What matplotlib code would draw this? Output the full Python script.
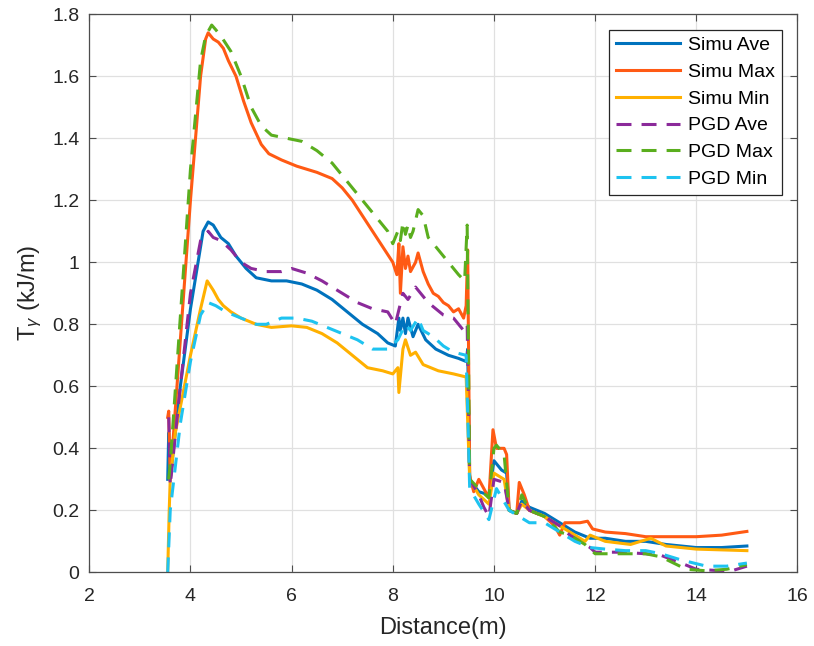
import numpy as np
import matplotlib
matplotlib.use("Agg")
import matplotlib.pyplot as plt

plt.rcParams['font.family'] = ['Liberation Sans', 'DejaVu Sans']
plt.rcParams['mathtext.fontset'] = 'custom'
plt.rcParams['mathtext.rm'] = 'Liberation Sans'
plt.rcParams['mathtext.it'] = 'Liberation Sans:italic'

# Simu Max
x_smax = [3.55, 3.57, 3.6, 3.8, 4.0, 4.2, 4.3, 4.35, 4.45, 4.55, 4.65, 4.75, 4.9, 5.05, 5.2, 5.4, 5.55,
          5.8, 6.1, 6.5, 6.8, 7.0, 7.2, 7.4, 7.6, 7.8, 8.0, 8.08, 8.12, 8.15, 8.2, 8.25, 8.3, 8.35, 8.45,
          8.5, 8.6, 8.7, 8.8, 8.9, 9.0, 9.1, 9.2, 9.3, 9.4, 9.45, 9.48, 9.52, 9.6, 9.7, 9.8, 9.9, 9.98,
          10.05, 10.2, 10.25, 10.3, 10.45, 10.5, 10.6, 10.7, 11.0, 11.2, 11.3, 11.4, 11.7, 11.85, 11.95,
          12.2, 12.6, 13.0, 13.5, 14.0, 14.5, 15.0]
y_smax = [0.5, 0.52, 0.3, 0.75, 1.2, 1.6, 1.72, 1.74, 1.72, 1.71, 1.69, 1.65, 1.6, 1.52, 1.45, 1.38, 1.35,
          1.33, 1.31, 1.29, 1.27, 1.24, 1.2, 1.15, 1.1, 1.05, 1.0, 0.96, 1.06, 0.9, 1.05, 0.98, 1.02, 0.97, 1.0,
          1.03, 0.97, 0.93, 0.9, 0.89, 0.87, 0.86, 0.84, 0.85, 0.82, 0.86, 1.04, 0.31, 0.26, 0.3, 0.27, 0.24, 0.46,
          0.4, 0.4, 0.38, 0.2, 0.19, 0.29, 0.25, 0.2, 0.18, 0.15, 0.12, 0.16, 0.16, 0.165, 0.14,
          0.13, 0.125, 0.115, 0.115, 0.115, 0.12, 0.132]

# Simu Ave
x_save = [3.55, 3.57, 3.6, 3.8, 4.0, 4.2, 4.25, 4.35, 4.45, 4.6, 4.75, 4.9, 5.1, 5.3, 5.6, 5.9, 6.2, 6.5,
          6.8, 7.1, 7.4, 7.7, 7.9, 8.05, 8.12, 8.15, 8.2, 8.25, 8.3, 8.4, 8.5, 8.65, 8.85, 9.1, 9.3, 9.45,
          9.48, 9.52, 9.7, 9.9, 10.0, 10.15, 10.25, 10.3, 10.45, 10.55, 10.7, 11.0, 11.3, 11.6, 11.9, 12.2,
          12.6, 13.0, 13.4, 14.0, 14.5, 15.0]
y_save = [0.3, 0.45, 0.3, 0.6, 0.85, 1.05, 1.1, 1.13, 1.12, 1.08, 1.06, 1.02, 0.98, 0.95, 0.94, 0.94, 0.93, 0.91,
          0.88, 0.84, 0.8, 0.77, 0.74, 0.73, 0.82, 0.78, 0.82, 0.77, 0.82, 0.76, 0.8, 0.75, 0.72, 0.7, 0.69, 0.68,
          0.72, 0.3, 0.26, 0.25, 0.36, 0.33, 0.32, 0.2, 0.19, 0.23, 0.21, 0.19, 0.16, 0.13, 0.11, 0.11,
          0.1, 0.1, 0.09, 0.08, 0.08, 0.085]

# Simu Min
x_smin = [3.55, 3.58, 3.6, 3.7, 4.0, 4.2, 4.33, 4.45, 4.55, 4.65, 4.8, 5.0, 5.3, 5.6, 6.0, 6.3, 6.6, 6.9,
          7.2, 7.5, 7.8, 8.0, 8.1, 8.12, 8.2, 8.25, 8.35, 8.45, 8.6, 8.9, 9.2, 9.45, 9.52, 9.7, 9.9, 10.0,
          10.2, 10.3, 10.45, 10.55, 10.7, 11.0, 11.3, 11.6, 11.8, 11.9, 12.2, 12.7, 13.1, 13.4, 14.0, 15.0]
y_smin = [0.0, 0.2, 0.3, 0.45, 0.7, 0.85, 0.94, 0.91, 0.88, 0.86, 0.84, 0.82, 0.8, 0.79, 0.795, 0.79, 0.77, 0.74,
          0.7, 0.66, 0.65, 0.64, 0.66, 0.58, 0.72, 0.75, 0.7, 0.71, 0.67, 0.65, 0.64, 0.63, 0.3, 0.25, 0.22, 0.32,
          0.3, 0.2, 0.19, 0.22, 0.2, 0.18, 0.15, 0.12, 0.1, 0.12, 0.1, 0.09, 0.11, 0.085, 0.075, 0.07]

# PGD Ave
x_pave = [3.57, 3.6, 3.8, 4.0, 4.2, 4.35, 4.45, 4.6, 4.8, 5.0, 5.2, 5.5, 5.8, 6.0, 6.3, 6.6, 7.0, 7.3,
          7.6, 7.9, 8.05, 8.2, 8.3, 8.45, 8.55, 8.7, 9.0, 9.2, 9.4, 9.47, 9.52, 9.7, 9.8, 9.9, 10.0, 10.2,
          10.3, 10.45, 10.55, 10.7, 11.0, 11.3, 11.5, 11.9, 12.0, 12.5, 13.0, 13.3, 13.7, 14.0, 14.5, 14.7, 15.0]
y_pave = [0.5, 0.28, 0.6, 0.9, 1.07, 1.1, 1.08, 1.07, 1.04, 1.0, 0.98, 0.97, 0.97, 0.98, 0.965, 0.94, 0.9, 0.87,
          0.85, 0.84, 0.8, 0.9, 0.88, 0.92, 0.9, 0.87, 0.83, 0.82, 0.78, 0.8, 0.3, 0.25, 0.21, 0.18, 0.3, 0.29,
          0.2, 0.19, 0.23, 0.2, 0.18, 0.15, 0.12, 0.08, 0.065, 0.065, 0.06, 0.055, 0.03, 0.01, 0.005, 0.005, 0.02]

# PGD Max
x_pmax = [3.57, 3.6, 4.0, 4.2, 4.3, 4.42, 4.5, 4.6, 4.8, 5.0, 5.2, 5.4, 5.6, 5.9, 6.2, 6.5, 6.8, 7.0,
          7.3, 7.6, 7.9, 8.0, 8.1, 8.15, 8.2, 8.25, 8.3, 8.35, 8.4, 8.5, 8.6, 8.7, 8.9, 9.0, 9.1, 9.2, 9.3,
          9.42, 9.47, 9.52, 9.7, 9.9, 10.0, 10.05, 10.2, 10.3, 10.45, 10.55, 10.7, 11.0, 11.3, 11.5, 11.8,
          12.0, 12.5, 13.0, 13.3, 13.8, 14.2, 14.6, 15.0]
y_pmax = [0.3, 0.35, 1.3, 1.65, 1.73, 1.765, 1.75, 1.73, 1.68, 1.6, 1.5, 1.44, 1.41, 1.4, 1.39, 1.36, 1.32, 1.28,
          1.22, 1.16, 1.1, 1.06, 1.1, 1.07, 1.13, 1.09, 1.12, 1.08, 1.1, 1.17, 1.15, 1.08, 1.04, 1.02, 1.0, 0.98, 0.96,
          0.94, 1.12, 0.3, 0.27, 0.24, 0.4, 0.41, 0.38, 0.2, 0.19, 0.25, 0.2, 0.18, 0.13, 0.12, 0.09,
          0.06, 0.06, 0.06, 0.05, 0.01, 0.005, 0.01, 0.025]

# PGD Min
x_pmin = [3.55, 3.6, 3.8, 4.0, 4.2, 4.35, 4.5, 4.7, 5.0, 5.3, 5.5, 5.8, 6.1, 6.4, 6.7, 7.0, 7.3, 7.6,
          7.9, 8.1, 8.25, 8.35, 8.5, 8.6, 8.8, 9.0, 9.2, 9.45, 9.52, 9.7, 9.9, 10.05, 10.3, 10.5, 10.7,
          11.0, 11.3, 11.6, 11.9, 12.2, 12.6, 13.0, 13.3, 13.7, 14.2, 14.6, 15.0]
y_pmin = [0.0, 0.2, 0.48, 0.68, 0.83, 0.87, 0.86, 0.84, 0.82, 0.8, 0.8, 0.82, 0.82, 0.81, 0.79, 0.77, 0.75, 0.72,
          0.72, 0.75, 0.8, 0.78, 0.82, 0.78, 0.76, 0.73, 0.71, 0.7, 0.27, 0.22, 0.17, 0.27, 0.2, 0.18, 0.16,
          0.16, 0.13, 0.1, 0.08, 0.075, 0.07, 0.07, 0.06, 0.04, 0.02, 0.02, 0.03]

fig = plt.figure(figsize=(8.14, 6.46), dpi=100)
ax = fig.add_axes([0.1097, 0.114, 0.870, 0.864])

lw = 2.2
dash = (0, (4.9, 3.3))
ax.plot(x_save, y_save, color='#0072BD', lw=lw, label='Simu Ave')
ax.plot(x_smax, y_smax, color='#FF5A14', lw=lw, label='Simu Max')
ax.plot(x_smin, y_smin, color='#FFB000', lw=lw, label='Simu Min')
ax.plot(x_pave, y_pave, color='#8B2A9A', lw=lw, ls=dash, label='PGD Ave')
ax.plot(x_pmax, y_pmax, color='#5AAE1E', lw=lw, ls=dash, label='PGD Max')
ax.plot(x_pmin, y_pmin, color='#1EC3F0', lw=lw, ls=dash, label='PGD Min')

ax.set_xlim(2, 16)
ax.set_ylim(0, 1.8)
ax.set_xticks(np.arange(2, 17, 2))
ax.set_yticks(np.arange(0, 1.81, 0.2))
ax.set_yticklabels(['0', '0.2', '0.4', '0.6', '0.8', '1', '1.2', '1.4', '1.6', '1.8'])
ax.tick_params(direction='in', top=True, right=True, labelsize=14, length=5,
               color='#4D4D4D', labelcolor='#262626')
ax.tick_params(axis='x', pad=11)
ax.tick_params(axis='y', pad=7)
ax.grid(True, color='#E0E0E0', lw=0.9)
ax.set_axisbelow(True)
for s in ax.spines.values():
    s.set_color('#4D4D4D')
    s.set_linewidth(0.9)

ax.set_xlabel('Distance(m)', fontsize=17, color='#262626', labelpad=9)
ax.set_ylabel(r'T$_\gamma$ (kJ/m)', fontsize=17, color='#262626', labelpad=6)

leg = ax.legend(loc='upper right', fontsize=14, fancybox=False, framealpha=1,
                edgecolor='#262626', borderaxespad=0.8, borderpad=0.35,
                handlelength=3.3, handletextpad=0.4, labelspacing=0.47)
leg.get_frame().set_linewidth(0.9)

fig.savefig('out.png', dpi=100)
